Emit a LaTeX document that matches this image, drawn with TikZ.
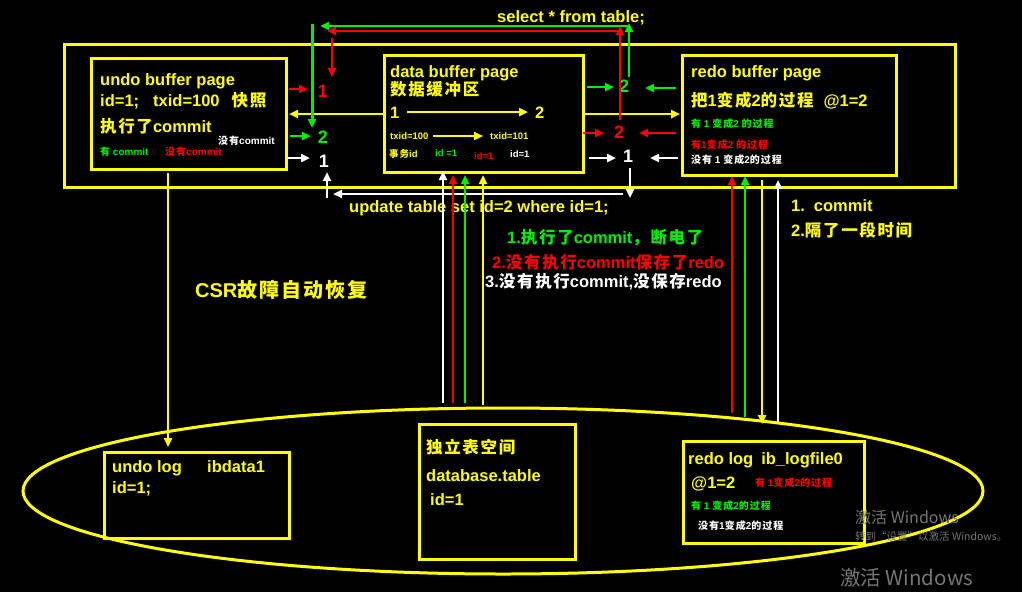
\documentclass[tikz,border=0pt]{standalone}
\usepackage{fontspec}
\setmainfont{Liberation Sans}
\newfontfamily\cjk[LetterSpace=10]{Noto Sans CJK SC}
\newfontfamily\wmfont{Noto Sans CJK SC}
\usetikzlibrary{arrows.meta,shapes.geometric}
\definecolor{yel}{RGB}{255,255,0}
\definecolor{grn}{RGB}{0,240,0}
\definecolor{rd}{RGB}{255,0,0}
\definecolor{wm}{RGB}{118,118,118}
\newcommand\zh[1]{{\cjk #1}}
\begin{document}
\begin{tikzpicture}[x=1pt,y=-1pt,
  box/.style={draw=yel,line width=3pt,inner sep=0pt,anchor=north west},
  txt/.style={anchor=base west,inner sep=0pt,font=\bfseries\fontsize{16.5}{19}\selectfont},
  big/.style={anchor=base west,inner sep=0pt,font=\bfseries\fontsize{20}{23}\selectfont},
  sm/.style={anchor=base west,inner sep=0pt,font=\bfseries\fontsize{10}{12}\selectfont},
  xs/.style={anchor=base west,inner sep=0pt,font=\bfseries\fontsize{9.5}{11}\selectfont},
  dig/.style={anchor=base,inner sep=0pt,font=\bfseries\fontsize{18}{20}\selectfont},
  arr/.style={-{Triangle[length=9pt,width=8pt]},line width=2.8pt},
  wmk/.style={anchor=base west,inner sep=0pt,text=wm},
]
\fill[black] (0,0) rectangle (1022,592);
\useasboundingbox (0,0) rectangle (1022,592);

% ---------- containers ----------
\node[draw=yel,line width=3pt,ellipse,minimum width=960pt,minimum height=166pt,inner sep=0pt] (disk) at (503,491) {};
\node[box,minimum width=891pt,minimum height=143pt] (pool) at (63,43) {};
\node[box,minimum width=195pt,minimum height=111pt] (undo) at (90,57) {};
\node[box,minimum width=199pt,minimum height=117pt] (data) at (383,54) {};
\node[box,minimum width=214pt,minimum height=120pt] (redo) at (681,54) {};
\node[box,minimum width=185pt,minimum height=86pt] (ulog) at (103,451) {};
\node[box,minimum width=156pt,minimum height=135pt] (tbl) at (418,423) {};
\node[box,minimum width=181pt,minimum height=102pt] (rlog) at (682,440) {};

% ---------- undo buffer page ----------
\node[txt,yel] (u1) at (100,85) {undo buffer page};
\node[txt,yel] (u2) at (100,106) {id=1;\hspace{14pt}txid=100\hspace{12pt}\zh{快照}};
\node[txt,yel] (u3) at (100,132) {\zh{执行了}commit};
\node[sm,white] (u4) at (218,144) {\zh{没有}commit};
\node[sm,grn] (u5) at (100,155) {\zh{有} commit};
\node[sm,rd] (u6) at (165,155) {\zh{没有}commit};

% ---------- data buffer page ----------
\node[txt,yel] (d1) at (390,77) {data buffer page};
\node[txt,yel] (d2) at (390,95) {\zh{数据缓冲区}};
\node[txt,yel] (d3) at (390,118) {1};
\node[txt,yel] (d4) at (535,118) {2};
\node[xs,yel] (d5) at (390,139) {txid=100};
\node[xs,yel] (d6) at (490,139) {txid=101};
\node[xs,yel] (d7) at (389,157) {\zh{事务}id};
\node[xs,grn] (d8) at (435,156) {id =1};
\node[xs,rd] (d9) at (474,159) {id=1};
\node[xs,white] (d10) at (510,157) {id=1};
\draw[arr,yel] (407,112) -- (528,112);
\draw[arr,yel,line width=2.2pt] (433,136) -- (483,136);

% ---------- redo buffer page ----------
\node[txt,yel] (r1) at (691,77) {redo buffer page};
\node[txt,yel] (r2) at (691,106) {\zh{把}1\zh{变成}2\zh{的过程}\hspace{10pt}@1=2};
\node[sm,grn] (r3) at (691,127) {\zh{有} 1 \zh{变成}2 \zh{的过程}};
\node[sm,rd] (r4) at (691,148) {\zh{有}1\zh{变成}2 \zh{的过程}};
\node[sm,white] (r5) at (691,163) {\zh{没有} 1 \zh{变成}2\zh{的过程}};

% ---------- digits between pages ----------
\node[dig,rd] (lr1) at (323,97) {1};
\node[dig,grn] (lg2) at (323,143) {2};
\node[dig,white] (lw1) at (324,167) {1};
\node[dig,grn] (rg2) at (624,92) {2};
\node[dig,rd] (rr2) at (619,138) {2};
\node[dig,white] (rw1) at (628,162) {1};

% left small arrows
\draw[arr,rd] (289,89) -- (308,89);
\draw[arr,yel] (data.west) -- ([xshift=1pt]undo.east |- data.west);
\draw[arr,grn] (290,136) -- (311,136);
\draw[arr,white] (288,158) -- (310,158);
% right small arrows
\draw[arr,grn] (587,87) -- (614,87);
\draw[arr,grn] (676,88) -- (645,88);
\draw[arr,yel] (data.east) -- ([xshift=-1pt]redo.west |- data.east);
\draw[arr,rd] (583,133) -- (604,133);
\draw[arr,rd] (676,133) -- (639,133);
\draw[arr,white] (589,158) -- (616,158);
\draw[arr,white] (678,158) -- (650,158);

% ---------- select flow ----------
\node[txt,yel] (sel) at (497,22) {select * from table;};
\draw[arr,grn] (629,77) -- (629,23);
\draw[arr,grn] (629,26) -- (320,26);
\draw[arr,grn,line width=3pt] (312,24) -- (312,128);
\draw[arr,rd] (620,120) -- (620,26);
\draw[arr,rd] (620,31) -- (327,31);
\draw[arr,rd] (332,38) -- (332,77);

% ---------- update flow ----------
\node[txt,yel] (upd) at (349,212) {update table set id=2 where id=1;};
\draw[arr,white] (630,168) -- (630,198);
\draw[arr,white] (623,194) -- (333,194);
\draw[arr,white] (327,198) -- (327,172);

% ---------- vertical arrows ----------
\draw[arr,white] (443,403) -- (443,171);
\draw[arr,rd] (453,403) -- (453,175);
\draw[arr,grn] (465,403) -- (465,175);
\draw[arr,yel] (483,405) -- (483,175);
\draw[arr,rd] (732,413) -- (732,176);
\draw[arr,grn] (745,417) -- (745,176);
\draw[arr,yel] (762,180) -- (762,424);
\draw[arr,white] (778,422) -- (778,180);
\draw[arr,yel] (168,173) -- (168,447);

% ---------- middle texts ----------
\node[big,yel] (csr) at (195,297) {CSR\zh{故障自动恢复}};
\node[txt,grn] (m1) at (507,243) {1.\zh{执行了}commit\zh{，断电了}};
\node[txt,rd] (m2) at (492,268) {2.\zh{没有执行}commit\zh{保存了}redo};
\node[txt,white] (m3) at (485,287) {3.\zh{没有执行}commit,\zh{没保存}redo};
\node[txt,yel] (c1) at (791,211) {1.\hspace{9pt}commit};
\node[txt,yel] (c2) at (791,236) {2.\zh{隔了一段时间}};

% ---------- disk boxes ----------
\node[txt,yel] (l1) at (112,472) {undo log};
\node[txt,yel] (l2) at (207,472) {ibdata1};
\node[txt,yel] (l3) at (112,493) {id=1;};
\node[txt,yel] (t1) at (426,453) {\zh{独立表空间}};
\node[txt,yel] (t2) at (426,481) {database.table};
\node[txt,yel] (t3) at (430,505) {id=1};
\node[txt,yel] (g1) at (688,464) {redo log\hspace{8pt}ib\_logfile0};
\node[txt,yel] (g2) at (691,488) {@1=2};
\node[sm,rd] (g3) at (755,486) {\zh{有} 1\zh{变成}2\zh{的过程}};
\node[sm,grn] (g4) at (691,509) {\zh{有} 1 \zh{变成}2\zh{的过程}};
\node[sm,white] (g5) at (698,529) {\zh{没有}1\zh{变成}2\zh{的过程}};

% ---------- watermark ----------
\node[wmk,font=\wmfont\fontsize{16}{18}\selectfont] (w1) at (855,523) {激活 Windows};
\node[wmk,font=\wmfont\fontsize{10.5}{12}\selectfont] (w2) at (855,540) {转到“设置”以激活 Windows。};
\node[wmk,font=\wmfont\fontsize{20.5}{23}\selectfont] (w3) at (840,585) {激活 Windows};
\end{tikzpicture}
\end{document}
